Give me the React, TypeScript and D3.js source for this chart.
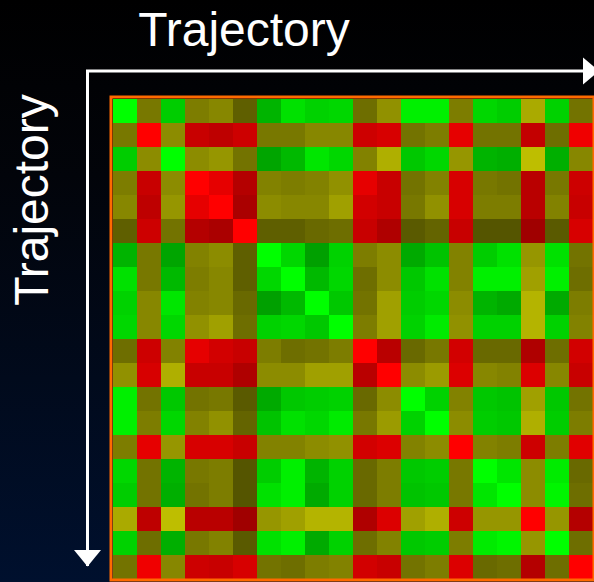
import React from "react";
import * as d3 from "d3";

const W = 594;
const H = 582;

const trajectories = d3.range(20).map((i) => `T${i + 1}`);
// cluster of each trajectory: "R" (red group) or "G" (green group)
const clusters = ["G","R","G","R","R","R","G","G","G","G","R","R","G","G","R","G","G","R","G","R"];

// pairwise similarity (0–255)
const similarity: number[][] = [
  [255,120,205,125,135,95,180,225,210,215,110,145,240,240,125,215,205,170,210,115],
  [120,255,140,200,190,205,120,120,135,135,205,215,115,125,230,115,115,195,110,240],
  [205,140,255,140,150,115,165,185,230,215,130,175,200,215,150,180,175,190,175,135],
  [125,200,140,255,230,180,130,125,130,145,230,200,115,130,215,120,115,185,120,205],
  [135,190,150,230,255,170,140,135,135,160,210,200,120,145,215,125,125,185,130,200],
  [95,205,115,180,170,255,95,95,105,110,200,175,90,100,200,85,85,160,90,215],
  [180,120,165,130,140,95,255,215,160,210,125,140,170,195,130,205,225,150,225,115],
  [225,120,185,125,135,95,215,255,185,215,110,140,200,225,130,240,240,160,240,110],
  [210,135,230,130,135,105,160,185,255,200,115,160,205,215,140,180,170,180,170,125],
  [215,135,215,145,160,110,210,215,200,255,125,160,210,235,145,210,210,180,210,130],
  [110,205,130,230,210,200,125,110,115,125,255,185,105,120,210,105,105,175,110,210],
  [145,215,175,200,200,175,140,140,160,160,185,255,140,155,220,135,130,220,135,200],
  [240,115,200,115,120,90,170,200,205,210,105,140,255,210,130,200,195,160,200,115],
  [240,125,215,130,145,100,195,225,215,235,120,155,210,255,140,205,200,175,205,125],
  [125,230,150,215,215,200,130,130,140,145,210,220,130,140,255,130,125,205,125,225],
  [215,115,180,120,125,85,205,240,180,210,105,125,200,205,120,255,230,140,235,105],
  [205,115,175,115,125,85,225,240,170,210,105,125,195,200,120,230,255,140,245,110],
  [170,190,190,185,185,160,150,160,180,180,175,220,160,175,205,150,150,255,150,180],
  [210,110,175,120,130,90,225,240,170,210,110,130,200,205,125,235,245,150,255,110],
  [115,240,135,205,200,215,115,110,125,130,210,200,115,125,220,105,110,180,110,255],
];

const axisLabel = "Trajectory";

export default function App() {
  const x = d3.scaleBand<string>().domain(trajectories).range([112.5, 592.5]).padding(0);
  const y = d3.scaleBand<string>().domain(trajectories).range([98.5, 578.5]).padding(0);
  const level = d3.scaleLinear().domain([0, 255]).range([0, 255]).clamp(true);

  const color = (i: number, j: number) => {
    const v = Math.round(level(similarity[i][j]));
    const a = clusters[i];
    const b = clusters[j];
    if (a === "R" && b === "R") return d3.rgb(v, 0, 0).formatHex();
    if (a === "G" && b === "G") return d3.rgb(0, v, 0).formatHex();
    return d3.rgb(v, v, 0).formatHex();
  };

  const cells: React.ReactNode[] = [];
  trajectories.forEach((ri, i) => {
    trajectories.forEach((cj, j) => {
      cells.push(
        <rect
          key={`${i}-${j}`}
          x={x(cj)}
          y={y(ri)}
          width={x.bandwidth() + 0.5}
          height={y.bandwidth() + 0.5}
          fill={color(i, j)}
        />
      );
    });
  });

  const font = "'Liberation Sans', Arial, sans-serif";

  return (
    <svg
      width={W}
      height={H}
      style={{ position: "absolute", left: 0, top: 0, display: "block" }}
    >
      <defs>
        <linearGradient id="bg" x1="0" y1="0" x2="0" y2="1">
          <stop offset="0" stopColor="#000000" />
          <stop offset="0.3" stopColor="#02040a" />
          <stop offset="1" stopColor="#00102e" />
        </linearGradient>
      </defs>
      <rect x={0} y={0} width={W} height={H} fill="url(#bg)" />

      {/* axis arrows */}
      <path d="M87.5,566 L87.5,71 L590,71" fill="none" stroke="#ffffff" strokeWidth={3} />
      <path d="M74,550 L101,550 L87.5,566.5 Z" fill="#ffffff" />
      <path d="M583,57.5 L583,84.5 L599,71 Z" fill="#ffffff" />

      {/* heatmap */}
      <g shapeRendering="crispEdges">{cells}</g>
      <rect
        x={111}
        y={97}
        width={483}
        height={483}
        fill="none"
        stroke="#ff6a00"
        strokeWidth={3}
      />

      <text
        x={244}
        y={45.5}
        textAnchor="middle"
        fill="#ffffff"
        fontFamily={font}
        fontSize={48}
      >
        {axisLabel}
      </text>
      <text
        transform="translate(47.5,200) rotate(-90)"
        textAnchor="middle"
        fill="#ffffff"
        fontFamily={font}
        fontSize={48}
      >
        {axisLabel}
      </text>
    </svg>
  );
}
